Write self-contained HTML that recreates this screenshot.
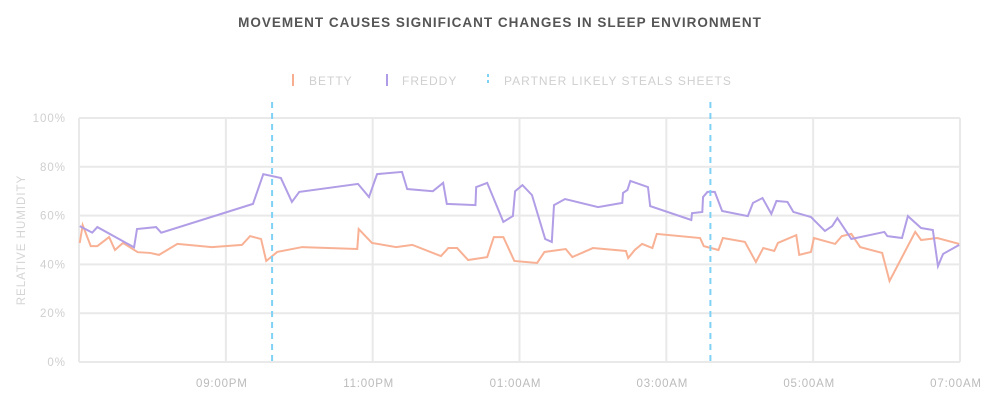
<!DOCTYPE html>
<html><head><meta charset="utf-8"><style>
body{margin:0;background:#fff;}
svg{display:block;font-family:"Liberation Sans",sans-serif;}
</style></head><body>
<svg id="chart" width="1000" height="402">
<text x="500" y="27" text-anchor="middle" font-size="13.5" font-weight="bold" fill="#555" letter-spacing="1">MOVEMENT CAUSES SIGNIFICANT CHANGES IN SLEEP ENVIRONMENT</text>
<g font-size="12" fill="#cfcfcf" letter-spacing="1">
<g><rect x="292" y="74" width="2" height="12" fill="#f7ad90"/><text x="309" y="85">BETTY</text></g>
<g><rect x="386" y="74" width="2" height="12" fill="#b09ce6"/><text x="402" y="85">FREDDY</text></g>
<g><line x1="488" y1="74" x2="488" y2="86" stroke="#7fd1f5" stroke-width="2" stroke-dasharray="3,3"/><text x="504" y="85">PARTNER LIKELY STEALS SHEETS</text></g>
</g>
<text transform="translate(25,240) rotate(-90)" text-anchor="middle" font-size="11.5" fill="#d4d4d4" letter-spacing="1">RELATIVE HUMIDITY</text>
<g id="grid"></g><g id="marks"></g>
</svg>
<script>
const yTicks=[0,20,40,60,80,100];
const xTicks=[2,4,6,8,10,12];
const xTickLabels=["09:00PM","11:00PM","01:00AM","03:00AM","05:00AM","07:00AM"];
const sheetTimes=[2.63,8.6];
const freddyT=[0.01,0.18,0.25,0.75,0.79,1.05,1.12,2.37,2.51,2.75,2.90,3.00,3.80,3.95,4.06,4.40,4.47,4.82,4.96,5.01,5.40,5.41,5.56,5.78,5.91,5.94,6.04,6.17,6.35,6.44,6.47,6.62,7.07,7.40,7.41,7.47,7.51,7.75,7.78,8.34,8.35,8.49,8.50,8.56,8.66,8.76,9.11,9.18,9.31,9.43,9.50,9.65,9.73,9.97,10.16,10.26,10.33,10.52,10.97,11.01,11.21,11.29,11.47,11.63,11.70,11.77,11.99];
const freddyV=[55.7,53,55.3,47,54.5,55.3,53,64.8,77,75.4,65.6,69.7,73,67.6,77,77.9,70.9,70,73.4,64.8,64.3,71.7,73.4,57.4,59.8,70,72.5,68.4,50.4,49.2,64.3,66.8,63.5,65.2,69.3,70.5,74.2,71.7,63.9,58.2,61,61.5,67.6,69.7,69.7,61.9,59.8,65.2,67.2,60.7,66,65.6,61.5,59.4,53.7,55.7,59,50.4,53.3,51.6,50.8,59.8,54.9,54.1,39.3,44.3,48];
const bettyT=[0.01,0.05,0.16,0.25,0.41,0.49,0.60,0.80,0.97,1.09,1.34,1.81,2.22,2.33,2.48,2.55,2.70,3.04,3.79,3.81,3.99,4.32,4.54,4.93,5.03,5.15,5.30,5.56,5.65,5.78,5.93,6.24,6.34,6.63,6.72,7.00,7.45,7.48,7.57,7.67,7.81,7.87,8.46,8.51,8.71,8.77,9.07,9.22,9.32,9.47,9.52,9.77,9.81,9.97,10.01,10.30,10.39,10.52,10.64,10.94,11.04,11.39,11.47,11.69,11.99];
const bettyV=[48.8,56.1,47.5,47.5,51.2,45.9,48.8,45,44.7,43.9,48.4,47.1,48,51.6,50.4,41.4,45.1,47.1,46.3,54.5,48.8,47.1,48,43.4,46.7,46.7,41.8,43,51.2,51.2,41.4,40.6,45.1,46.3,43,46.7,45.5,42.6,45.9,48.4,46.7,52.5,50.8,47.5,45.9,50.8,49.2,41,46.7,45.5,48.8,52,43.9,45.1,50.8,48.4,51.6,52.5,47.1,44.7,33.2,53.3,50,50.8,48.4];
const X0=79,X1=960,Y0=362,Y1=118;
const xs=h=>X0+h/12*(X1-X0);
const ys=v=>Y0-v/100*(Y0-Y1);
const NS="http://www.w3.org/2000/svg";
const grid=document.getElementById('grid'),marks=document.getElementById('marks');
function mk(tag,attrs,parent){const e=document.createElementNS(NS,tag);for(const k in attrs)e.setAttribute(k,attrs[k]);parent.appendChild(e);return e;}
yTicks.forEach(v=>{
 const l=mk('line',{x1:X0,x2:X1,y1:ys(v),y2:ys(v),stroke:'#e9e9e9','stroke-width':2},grid);
 
 
 const t=mk('text',{x:66,y:ys(v)+4,'text-anchor':'end','font-size':11.5,fill:'#cfcfcf','letter-spacing':1},grid);
 t.textContent=v+'%';
 
 
});
const ax=mk('line',{x1:X0,x2:X0,y1:Y1,y2:Y0,stroke:'#e9e9e9','stroke-width':2},grid);


xTicks.forEach((h,i)=>{
 const l=mk('line',{x1:xs(h),x2:xs(h),y1:Y1,y2:Y0,stroke:'#e9e9e9','stroke-width':2},grid);
 
 
 const t=mk('text',{x:xs(h)-4,y:387,'text-anchor':'middle','font-size':11.5,fill:'#bbbbbb','letter-spacing':0.8},grid);
 t.textContent=xTickLabels[i];
 
 
});
function line(T,V,color,name){
 const p=mk('polyline',{points:T.map((t,i)=>xs(t)+','+ys(V[i])).join(' '),fill:'none',stroke:color,'stroke-width':2,'stroke-linejoin':'miter'},marks);
 
 
}
line(bettyT,bettyV,'#f8b194','betty-line');
line(freddyT,freddyV,'#b19ee6','freddy-line');
sheetTimes.forEach(h=>{
 const l=mk('line',{x1:xs(h),x2:xs(h),y1:102,y2:Y0,stroke:'#7fd1f5','stroke-width':2,'stroke-dasharray':'6,5'},marks);
 
 
});
</script>
</body></html>
